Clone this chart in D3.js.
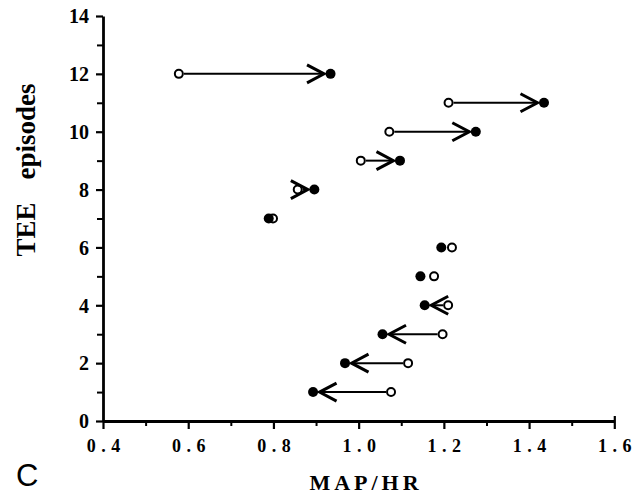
<!DOCTYPE html>
<html>
<head>
<meta charset="utf-8">
<script src="https://cdn.jsdelivr.net/npm/d3@7"></script>
<style>
  html, body { margin: 0; padding: 0; background: #fff; }
  svg { display: block; }
</style>
</head>
<body>
<svg id="chart" width="633" height="494"></svg>
<script>
// ---- data ----
const episodes = [1, 2, 3, 4, 5, 6, 7, 8, 9, 10, 11, 12];
const mapHrBefore = [1.076, 1.116, 1.197, 1.210, 1.177, 1.219, 0.799, 0.857, 1.005, 1.072, 1.211, 0.578]; // open circles
const mapHrAfter  = [0.893, 0.968, 1.056, 1.155, 1.145, 1.194, 0.789, 0.896, 1.097, 1.275, 1.435, 0.934]; // filled circles
const showArrow   = [true, true, true, true, false, false, false, true, true, true, true, true];
const xMajorTicks = [0.4, 0.6, 0.8, 1.0, 1.2, 1.4, 1.6];
const xTickLabels = ["0.4", "0.6", "0.8", "1.0", "1.2", "1.4", "1.6"];
const xMinorTicks = [0.5, 0.7, 0.9, 1.1, 1.3, 1.5];
const yMajorTicks = [0, 2, 4, 6, 8, 10, 12, 14];
const yMinorTicks = [1, 3, 5, 7, 9, 11, 13];
const xTitle = "MAP/HR";
const yTitleA = "TEE";
const yTitleB = "episodes";
const panelLabel = "C";

// ---- drawing ----
const svg = d3.select("#chart");
const serif = "'Liberation Serif', 'Times New Roman', serif";

const x = d3.scaleLinear().domain([0.4, 1.6]).range([103, 614.3]);
const y = d3.scaleLinear().domain([0, 14]).range([421, 16]);

const x0 = x(0.4), y0 = y(0);

// X axis (major)
const gx = svg.append("g").attr("transform", `translate(0,${y0})`);
gx.call(d3.axisBottom(x).tickValues(xMajorTicks).tickSize(8).tickSizeOuter(0)
  .tickFormat((d, i) => xTickLabels[i]));
gx.attr("font-family", null).attr("font-size", null);
gx.select(".domain").attr("stroke", "#000").attr("stroke-width", 3);
gx.selectAll(".tick line").attr("stroke", "#000").attr("stroke-width", 2.2);
gx.selectAll(".tick text")
  .attr("y", 31).attr("dy", 0)
  .style("font-family", serif).style("font-weight", "bold").style("font-size", "18px")
  .attr("fill", "#000")
  .each(function(d, i) {
    const t = d3.select(this);
    const label = xTickLabels[i];
    t.text(null);
    label.split("").forEach((ch, k) => {
      t.append("tspan").attr("dx", k === 0 ? 0 : 5.5).text(ch);
    });
  });
// X axis minor ticks
const gxm = svg.append("g").attr("transform", `translate(0,${y0})`);
gxm.call(d3.axisBottom(x).tickValues(xMinorTicks).tickSize(5).tickSizeOuter(0).tickFormat(""));
gxm.select(".domain").remove();
gxm.selectAll(".tick line").attr("stroke", "#000").attr("stroke-width", 2);
// small upward end tick at 1.6
const gxe = svg.append("g").attr("transform", `translate(0,${y0})`);
gxe.call(d3.axisBottom(x).tickValues([1.6]).tickSize(-5).tickSizeOuter(0).tickFormat(""));
gxe.select(".domain").remove();
gxe.selectAll(".tick line").attr("stroke", "#000").attr("stroke-width", 2.2);

// Y axis (major)
const gy = svg.append("g").attr("transform", `translate(${x0},0)`);
gy.call(d3.axisLeft(y).tickValues(yMajorTicks).tickSize(7).tickSizeOuter(0).tickFormat(d3.format("d")));
gy.attr("font-family", null).attr("font-size", null);
gy.select(".domain").attr("stroke", "#000").attr("stroke-width", 2.8);
gy.selectAll(".tick line").attr("stroke", "#000").attr("stroke-width", 2.2);
gy.selectAll(".tick text")
  .attr("x", -14).attr("dy", "0.34em")
  .style("font-family", serif).style("font-weight", "bold").style("font-size", "20px")
  .attr("fill", "#000");
// Y axis minor ticks
const gym = svg.append("g").attr("transform", `translate(${x0},0)`);
gym.call(d3.axisLeft(y).tickValues(yMinorTicks).tickSize(6).tickSizeOuter(0).tickFormat(""));
gym.select(".domain").remove();
gym.selectAll(".tick line").attr("stroke", "#000").attr("stroke-width", 2);

// data records
const rows = episodes.map((e, i) => ({ e, b: mapHrBefore[i], a: mapHrAfter[i], arrow: showArrow[i] }));

const rFill = 5, rOpen = 4;
const headLen = 17, headHalf = 9;

const marks = svg.append("g");
rows.filter(d => d.arrow).forEach(d => {
  const xb = x(d.b), xa = x(d.a), yy = y(d.e);
  const dir = Math.sign(xa - xb);
  const tip = xa - dir * (rFill + 1.5);
  const start = xb + dir * (rOpen + 1);
  marks.append("line")
    .attr("x1", start).attr("x2", tip)
    .attr("y1", yy).attr("y2", yy)
    .attr("stroke", "#000").attr("stroke-width", 2);
  marks.append("path")
    .attr("d", `M${tip - dir * headLen},${yy - headHalf} L${tip},${yy} L${tip - dir * headLen},${yy + headHalf}`)
    .attr("fill", "none").attr("stroke", "#000").attr("stroke-width", 3)
    .attr("stroke-linejoin", "miter");
});

// filled circles
marks.selectAll("circle.after").data(rows).join("circle")
  .attr("class", "after")
  .attr("cx", d => x(d.a)).attr("cy", d => y(d.e)).attr("r", rFill)
  .attr("fill", "#000");
// open circles
marks.selectAll("circle.before").data(rows).join("circle")
  .attr("class", "before")
  .attr("cx", d => x(d.b)).attr("cy", d => y(d.e)).attr("r", rOpen)
  .attr("fill", "none").attr("stroke", "#000").attr("stroke-width", 2);

// axis titles
svg.append("text")
  .attr("x", 366).attr("y", 490)
  .attr("text-anchor", "middle")
  .style("letter-spacing", "4px")
  .style("font-family", serif).style("font-weight", "bold").style("font-size", "22px")
  .text(xTitle);

const yt = svg.append("text")
  .attr("transform", "translate(35,170) rotate(-90)")
  .attr("text-anchor", "middle")
  .style("font-family", serif).style("font-weight", "bold").style("font-size", "27px");
yt.append("tspan").text(yTitleA);
yt.append("tspan").attr("dx", 23).text(yTitleB);

// panel label
svg.append("text")
  .attr("x", 16).attr("y", 486)
  .style("font-family", "'Liberation Sans', Arial, sans-serif")
  .style("font-size", "31px")
  .text(panelLabel);
</script>
</body>
</html>
